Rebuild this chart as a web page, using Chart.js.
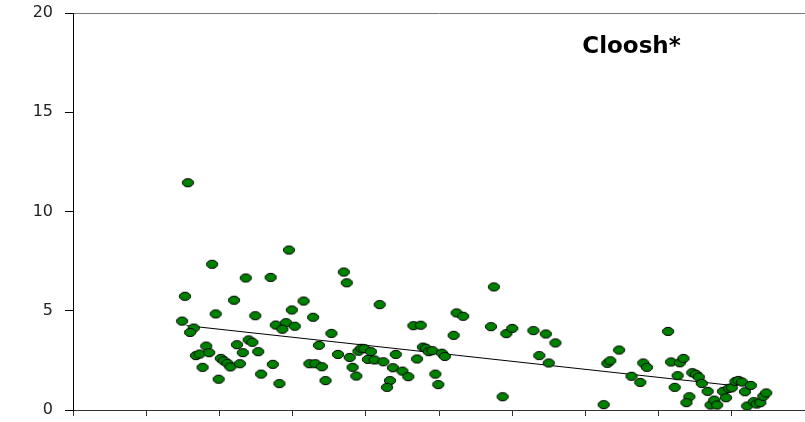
<!DOCTYPE html>
<html lang="pt-BR">
<head>
<meta charset="utf-8">
<title>Cloosh*</title>
<script src="https://cdn.jsdelivr.net/npm/chart.js@4.4.0/dist/chart.umd.min.js"></script>
<style>
    html, body { margin: 0; padding: 0; background: #fff; }
    #caixa { width: 805px; height: 422px; position: relative; }
</style>
</head>
<body>
<div id="caixa"><canvas id="graficoCloosh"></canvas></div>
<script>
// ============================================================
//  DADOS
// ============================================================

const TITULO = 'Cloosh*';

const valoresX = [
    1.57, 2.95, 1.90, 2.36, 2.70, 1.53, 2.20, 3.15, 2.99, 1.95,
    2.49, 3.28, 1.49, 2.77, 2.91, 2.86, 3.03, 1.65, 1.60, 3.36,
    1.82, 2.24, 2.40, 2.45, 1.68, 1.73, 1.86, 2.32, 2.53, 2.02,
    2.06, 2.11, 2.15, 2.28, 1.77, 2.73, 2.57, 1.99, 2.82, 3.23,
    3.31, 3.40, 3.53, 3.70, 3.74, 4.19, 3.62, 3.78, 3.82, 3.87,
    3.45, 3.90, 3.94, 3.98, 4.07, 4.03, 4.12, 4.24, 4.41, 4.37,
    4.50, 4.58, 4.33, 4.29, 4.70, 4.65, 4.75, 4.78, 4.82, 4.86,
    4.91, 5.04, 5.08, 4.95, 4.99, 5.20, 5.24, 5.33, 5.75, 5.71,
    5.92, 6.00, 5.87, 6.29, 6.46, 6.59, 6.37, 6.50, 7.25, 7.30,
    7.34, 7.46, 7.63, 7.75, 7.79, 7.84, 8.13, 8.17, 8.29, 8.34,
    8.26, 8.22, 8.42, 8.38, 8.46, 8.51, 8.55, 8.59, 8.67, 8.71,
    8.76, 8.80, 8.88, 8.92, 8.96, 9.00, 9.05, 9.09, 9.14, 9.18,
    9.26, 9.21, 9.30, 9.34, 9.39, 9.43, 9.47
];

const valoresY = [
    11.45, 8.06, 7.34, 6.65, 6.68, 5.73, 5.53, 5.49, 5.04, 4.84,
    4.75, 4.67, 4.48, 4.28, 4.40, 4.07, 4.22, 4.13, 3.91, 3.26,
    3.22, 3.29, 3.53, 3.41, 2.74, 2.82, 2.89, 2.89, 2.94, 2.60,
    2.48, 2.35, 2.17, 2.33, 2.15, 2.30, 1.81, 1.55, 1.33, 2.33,
    2.33, 2.18, 3.86, 6.95, 6.41, 5.31, 2.80, 2.65, 2.15, 1.71,
    1.48, 2.96, 3.11, 3.09, 2.94, 2.55, 2.52, 2.43, 2.80, 2.13,
    1.96, 1.68, 1.48, 1.14, 2.57, 4.25, 4.27, 3.17, 3.11, 2.94,
    2.99, 2.86, 2.70, 1.81, 1.28, 3.76, 4.89, 4.72, 6.20, 4.20,
    3.85, 4.11, 0.67, 4.00, 3.83, 3.38, 2.74, 2.37, 0.27, 2.35,
    2.48, 3.02, 1.70, 1.39, 2.37, 2.15, 3.96, 2.42, 2.38, 2.60,
    1.73, 1.14, 0.67, 0.37, 1.88, 1.80, 1.66, 1.34, 0.94, 0.25,
    0.50, 0.25, 0.94, 0.62, 1.09, 1.12, 1.44, 1.49, 1.41, 0.92,
    1.24, 0.20, 0.42, 0.30, 0.37, 0.69, 0.86
];

// linha de tendência (extremos)
const tendenciaX = [1.55, 8.95];
const tendenciaY = [4.25, 1.26];

const ticksY = [0, 5, 10, 15, 20];
const ticksX = [0, 1, 2, 3, 4, 5, 6, 7, 8, 9, 10];

// ============================================================
//  MARCADOR ELÍPTICO
// ============================================================

function criarMarcador() {
    const c = document.createElement('canvas');
    c.width = 14;
    c.height = 11;
    const g = c.getContext('2d');
    g.beginPath();
    g.ellipse(7, 5.5, 5.6, 4.1, 0, 0, Math.PI * 2);
    g.fillStyle = '#008000';
    g.fill();
    g.lineWidth = 1;
    g.strokeStyle = '#000';
    g.stroke();
    return c;
}

// ============================================================
//  TÍTULO DENTRO DA ÁREA DO GRÁFICO
// ============================================================

const pluginTitulo = {
    id: 'tituloInterno',
    afterDatasetsDraw(chart) {
        const { ctx, scales } = chart;
        ctx.save();
        ctx.font = 'bold 23px "DejaVu Sans"';
        ctx.fillStyle = '#000';
        ctx.textAlign = 'center';
        ctx.textBaseline = 'alphabetic';
        ctx.fillText(TITULO, scales.x.getPixelForValue(7.63), scales.y.getPixelForValue(17.97));
        ctx.restore();
    }
};

// sem folga extra para os rótulos nas pontas dos eixos
function semFolga(s) {
    s.paddingTop = 0;
    s.paddingBottom = 0;
    s.paddingLeft = 0;
    s.paddingRight = 0;
}

// ============================================================
//  RENDERIZAR GRÁFICO
// ============================================================

function renderizarGrafico() {
    const ctx = document.getElementById('graficoCloosh');

    const pontos = valoresX.map((x, i) => ({ x: x, y: valoresY[i] }));
    const tendencia = tendenciaX.map((x, i) => ({ x: x, y: tendenciaY[i] }));

    new Chart(ctx, {
        type: 'scatter',
        data: {
            datasets: [
                {
                    label: TITULO,
                    data: pontos,
                    pointStyle: criarMarcador(),
                    pointRadius: 6,
                    order: 1
                },
                {
                    type: 'line',
                    label: 'tendência',
                    data: tendencia,
                    borderColor: '#000',
                    borderWidth: 1,
                    pointRadius: 0,
                    fill: false,
                    order: 2
                }
            ]
        },
        options: {
            responsive: true,
            maintainAspectRatio: false,
            animation: false,
            layout: {
                autoPadding: false,
                padding: { top: 13, right: 0, bottom: 0, left: 0 }
            },
            plugins: {
                legend: { display: false },
                tooltip: { enabled: false }
            },
            scales: {
                x: {
                    type: 'linear',
                    position: 'bottom',
                    min: 0,
                    max: 10,
                    afterBuildTicks: s => { s.ticks = ticksX.map(v => ({ value: v })); },
                    afterFit: s => { s.height = 12; semFolga(s); },
                    ticks: { display: false },
                    grid: { drawOnChartArea: false, tickLength: 6, color: '#333' },
                    border: { color: '#333', width: 1 }
                },
                x2: {
                    type: 'linear',
                    position: 'top',
                    min: 0,
                    max: 10,
                    afterFit: s => { s.height = 0; semFolga(s); },
                    ticks: { display: false },
                    grid: { drawOnChartArea: false, drawTicks: false },
                    border: { color: '#777', width: 1 }
                },
                y: {
                    min: 0,
                    max: 20,
                    afterBuildTicks: s => { s.ticks = ticksY.map(v => ({ value: v })); },
                    afterFit: s => { s.width = 73; semFolga(s); },
                    ticks: {
                        padding: 12,
                        color: '#222',
                        font: { family: '"DejaVu Sans"', size: 16 }
                    },
                    grid: { drawOnChartArea: false, tickLength: 8, color: '#000' },
                    border: { color: '#000', width: 1 }
                }
            }
        },
        plugins: [pluginTitulo]
    });
}

document.addEventListener('DOMContentLoaded', renderizarGrafico);
</script>
</body>
</html>
